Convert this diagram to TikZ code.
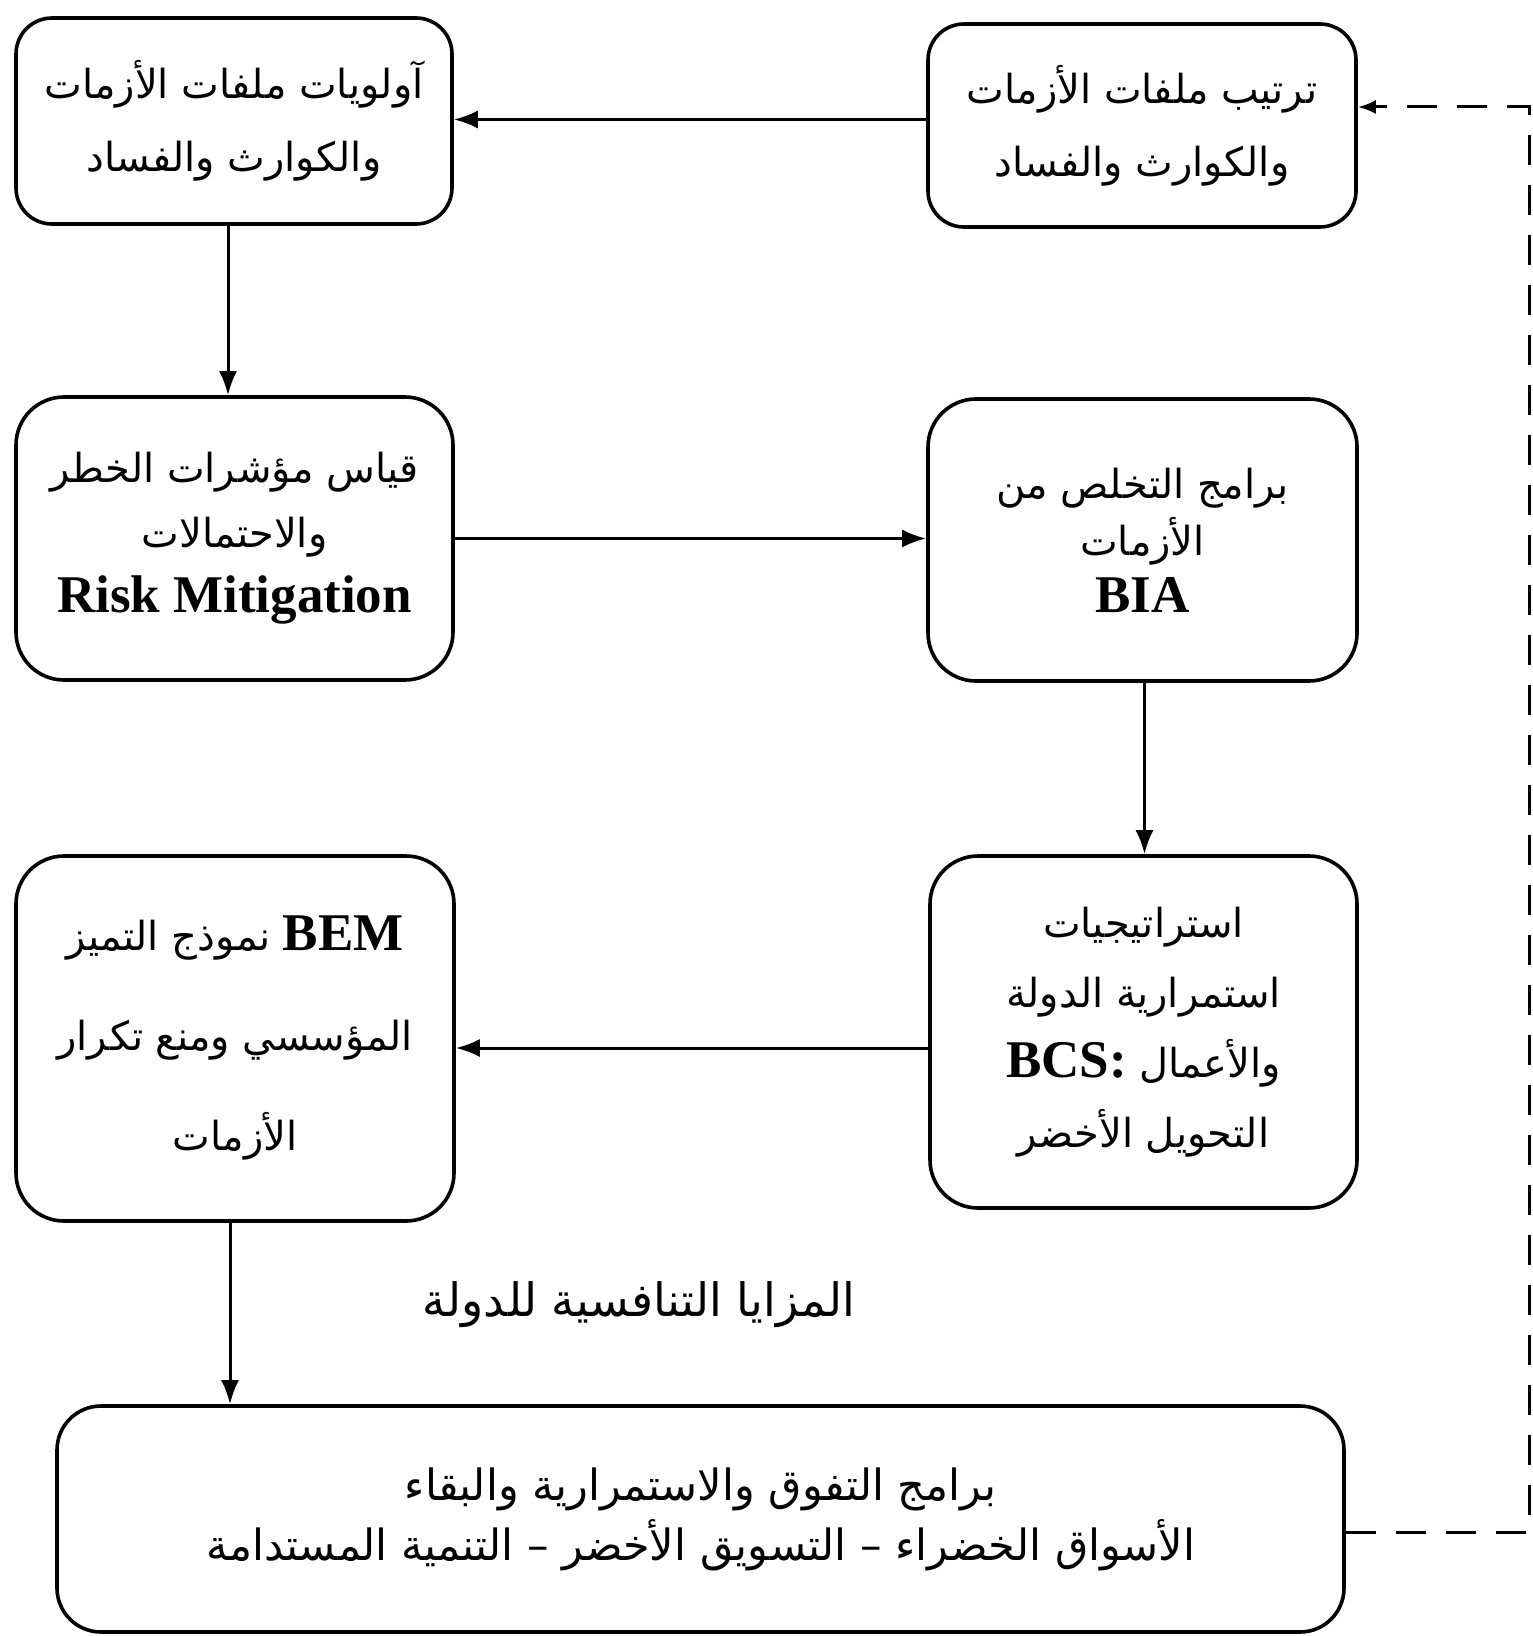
\documentclass[tikz,border=0pt]{standalone}
\usepackage{fontspec}
\setmainfont{Liberation Serif}
\newfontfamily\arabicfont[Script=Arabic]{DejaVu Sans}
\TeXXeTstate=1
\usetikzlibrary{arrows.meta}
\newcommand{\artxt}[1]{{\arabicfont\beginR #1\endR}}
\newcommand{\lat}[1]{\beginL{\rmfamily\bfseries\fontsize{26.5}{30}\selectfont #1}\endL}
\tikzset{
  box/.style={draw, line width=1.8pt, rounded corners=#1, align=center, inner sep=0pt},
  box/.default=18pt,
  arr/.style={line width=1.5pt, -{Latex[length=12pt,width=9pt]}},
  darr/.style={line width=1.5pt, dash pattern=on 15pt off 10pt, -{Latex[length=9pt,width=7pt]}},
}
\begin{document}
\begin{tikzpicture}[x=0.5pt,y=-0.5pt]
\useasboundingbox (0,0) rectangle (1532,1636);
% boxes
\node[box, minimum width=218pt, minimum height=103pt,
      font=\fontsize{20}{36.5}\selectfont] (A) at (234,121)
  {\artxt{آولويات ملفات الأزمات}\\\artxt{والكوارث والفساد}};
\node[box, minimum width=214pt, minimum height=101.5pt,
      font=\fontsize{20}{36.5}\selectfont] (B) at (1142,125.5)
  {\artxt{ترتيب ملفات الأزمات}\\\artxt{والكوارث والفساد}};
\node[box=24pt, minimum width=218.5pt, minimum height=141.5pt,
      font=\fontsize{20}{32.5}\selectfont] (C) at (234.5,538.5)
  {\artxt{قياس مؤشرات الخطر}\\\artxt{والاحتمالات}\\\lat{Risk Mitigation}};
\node[box=24pt, minimum width=214.5pt, minimum height=141pt,
      font=\fontsize{20}{28.5}\selectfont] (D) at (1142.5,540)
  {\artxt{برامج التخلص من}\\\artxt{الأزمات}\\\lat{BIA}};
\node[box=24pt, minimum width=213.5pt, minimum height=176pt,
      font=\fontsize{20}{35}\selectfont] (E) at (1143.5,1032)
  {\artxt{استراتيجيات}\\\artxt{استمرارية الدولة}\\\artxt{والأعمال \lat{BCS:}}\\\artxt{التحويل الأخضر}};
\node[box=24pt, minimum width=219pt, minimum height=182.5pt,
      font=\fontsize{20}{50}\selectfont] (F) at (235,1038.5)
  {\artxt{\lat{BEM} نموذج التميز}\\\artxt{المؤسسي ومنع تكرار}\\\artxt{الأزمات}};
\node[box=22pt, minimum width=643.5pt, minimum height=113pt,
      font=\fontsize{21.5}{30}\selectfont] (G) at (700.5,1519)
  {\artxt{برامج التفوق والاستمرارية والبقاء}\\\artxt{الأسواق الخضراء – التسويق الأخضر – التنمية المستدامة}};
% label
\node[font=\fontsize{23}{26}\selectfont, inner sep=0pt] (L) at (639,1305)
  {\artxt{المزايا التنافسية للدولة}};
% connectors
\draw[arr] ([yshift=3pt]B.west) -- ([yshift=3pt]B.west -| A.east);
\draw[arr] ([xshift=-3pt]A.south) -- ([xshift=-3pt]A.south |- C.north);
\draw[arr] (C.east) -- (C.east -| D.west);
\draw[arr] ([xshift=1pt]D.south) -- ([xshift=1pt]D.south |- E.north);
\draw[arr] ([yshift=-8pt]E.west) -- ([yshift=-8pt]E.west -| F.east);
\draw[arr] ([xshift=-2.5pt]F.south) -- ([xshift=-2.5pt]F.south |- G.north);
% dashed feedback
\coordinate (R1) at (1529,1532);
\coordinate (R2) at (1529,107);
\draw[darr] (G.east |- R1) -- (R1) -- (R2) -- (R2 -| B.east);
\end{tikzpicture}
\end{document}
